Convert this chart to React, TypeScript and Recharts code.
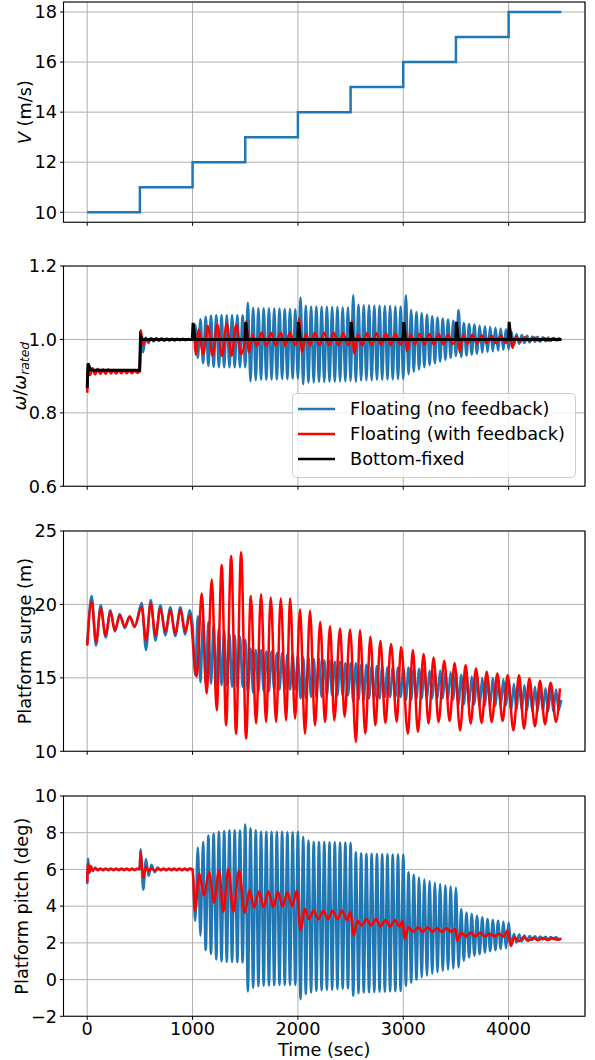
import React from 'react';
import { LineChart, Line, XAxis, YAxis, CartesianGrid, ReferenceArea, Legend } from 'recharts';

// ---------------- data ----------------
const X_TICKS = [0, 1000, 2000, 3000, 4000];

// Panel 1: wind speed
const V_T = [0, 500, 1000, 1500, 2000, 2500, 3000, 3500, 4000, 4500];
const V_VAL = [10, 11, 12, 13, 14, 15, 16, 17, 18, 18];

// shared 25 s sample grid after t = 1000 s
const GRID_LATE = [
  1000, 1025, 1050, 1075, 1100, 1125, 1150, 1175, 1200, 1225, 1250, 1275, 1300, 1325, 1350, 1375, 1400, 1425, 1450, 1475,
  1500, 1525, 1550, 1575, 1600, 1625, 1650, 1675, 1700, 1725, 1750, 1775, 1800, 1825, 1850, 1875, 1900, 1925, 1950, 1975,
  2000, 2025, 2050, 2075, 2100, 2125, 2150, 2175, 2200, 2225, 2250, 2275, 2300, 2325, 2350, 2375, 2400, 2425, 2450, 2475,
  2500, 2525, 2550, 2575, 2600, 2625, 2650, 2675, 2700, 2725, 2750, 2775, 2800, 2825, 2850, 2875, 2900, 2925, 2950, 2975,
  3000, 3025, 3050, 3075, 3100, 3125, 3150, 3175, 3200, 3225, 3250, 3275, 3300, 3325, 3350, 3375, 3400, 3425, 3450, 3475,
  3500, 3525, 3550, 3575, 3600, 3625, 3650, 3675, 3700, 3725, 3750, 3775, 3800, 3825, 3850, 3875, 3900, 3925, 3950, 3975,
  4000, 4025, 4050, 4075, 4100, 4125, 4150, 4175, 4200, 4225, 4250, 4275, 4300, 4325, 4350, 4375, 4400, 4425, 4450, 4475,
  4500,
];

// Panel 2: rotor speed ratio
const OMEGA_EARLY_T = [
  0, 10, 25, 50, 75, 100, 125, 150, 175, 200, 225, 250, 275, 300, 325, 350, 375, 400, 425, 450, 475,
  498, 508, 530, 555, 580, 605, 630, 655, 680, 705, 730, 755, 780, 805, 830, 855, 880, 905, 930, 955, 980,
];
const OMEGA_BLUE_EARLY = [
  0.865, 0.930, 0.905, 0.922, 0.906, 0.920, 0.908, 0.918, 0.909, 0.918, 0.910, 0.917, 0.910, 0.917, 0.911, 0.917, 0.911, 0.916, 0.911, 0.916, 0.912,
  0.914, 1.005, 0.965, 1.005, 0.990, 1.004, 0.995, 1.003, 0.996, 1.002, 0.997, 1.002, 0.998, 1.001, 0.998, 1.001, 0.999, 1.001, 0.999, 1.000, 1.000,
];
const OMEGA_BLUE_LATE = [
  1.000, 1.040, 0.950, 1.055, 0.935, 1.062, 0.928, 1.065, 0.925, 1.066, 0.924, 1.066, 0.924, 1.066, 0.924, 1.066, 0.924, 1.066, 0.924, 1.066,
  0.924, 1.100, 0.886, 1.086, 0.889, 1.085, 0.890, 1.085, 0.890, 1.085, 0.891, 1.084, 0.891, 1.084, 0.892, 1.083, 0.892, 1.083, 0.893, 1.082,
  0.893, 1.114, 0.878, 1.092, 0.882, 1.090, 0.883, 1.090, 0.884, 1.089, 0.884, 1.089, 0.885, 1.088, 0.885, 1.088, 0.886, 1.087, 0.886, 1.087,
  0.887, 1.120, 0.885, 1.095, 0.888, 1.093, 0.889, 1.093, 0.889, 1.092, 0.890, 1.092, 0.890, 1.091, 0.891, 1.091, 0.891, 1.090, 0.892, 1.090,
  0.892, 1.120, 0.905, 1.080, 0.912, 1.075, 0.918, 1.071, 0.924, 1.067, 0.930, 1.063, 0.935, 1.060, 0.940, 1.057, 0.945, 1.054, 0.950, 1.051,
  0.955, 1.080, 0.952, 1.045, 0.956, 1.042, 0.959, 1.040, 0.961, 1.038, 0.964, 1.036, 0.966, 1.034, 0.968, 1.032, 0.970, 1.030, 0.972, 1.028,
  0.973, 1.022, 0.985, 1.014, 0.988, 1.012, 0.990, 1.010, 0.992, 1.008, 0.993, 1.007, 0.994, 1.006, 0.995, 1.005, 0.996, 1.004, 0.997, 1.003,
  0.998,
];
const OMEGA_RED_EARLY = [
  0.855, 0.925, 0.903, 0.920, 0.905, 0.919, 0.906, 0.918, 0.906, 0.918, 0.907, 0.917, 0.907, 0.917, 0.908, 0.917, 0.908, 0.916, 0.908, 0.916, 0.909,
  0.913, 1.025, 0.985, 1.003, 0.994, 1.003, 0.995, 1.003, 0.996, 1.003, 0.996, 1.002, 0.997, 1.002, 0.997, 1.002, 0.998, 1.002, 0.998, 1.001, 1.000,
];
const OMEGA_RED_LATE_T = [
  1000, 1010, 1030, 1057, 1100, 1145, 1190, 1235, 1280, 1325, 1370, 1415, 1460, 1500, 1510, 1535, 1570, 1610, 1655, 1700,
  1745, 1790, 1835, 1880, 1925, 1970, 2000, 2010, 2040, 2075, 2115, 2160, 2205, 2250, 2295, 2340, 2385, 2430, 2475, 2500,
  2510, 2535, 2570, 2610, 2655, 2700, 2745, 2790, 2835, 2880, 2925, 2970, 3000, 3010, 3035, 3070, 3110, 3155, 3200, 3245,
  3290, 3335, 3380, 3425, 3470, 3500, 3510, 3535, 3570, 3610, 3655, 3700, 3745, 3790, 3835, 3880, 3925, 3970, 4000, 4010,
  4035, 4070, 4110, 4155, 4200, 4245, 4290, 4335, 4380, 4425, 4470, 4500,
];
const OMEGA_RED_LATE = [
  1.000, 1.035, 0.958, 1.027, 0.960, 1.036, 0.956, 1.040, 0.955, 1.043, 0.956, 1.040, 0.960, 1.000, 1.050, 0.965, 1.012, 0.983, 1.018, 0.983,
  1.018, 0.983, 1.018, 0.983, 1.018, 0.985, 1.000, 1.058, 0.966, 1.015, 0.983, 1.018, 0.984, 1.018, 0.984, 1.018, 0.984, 1.017, 0.985, 1.000,
  1.050, 0.962, 1.015, 0.984, 1.017, 0.984, 1.017, 0.985, 1.016, 0.985, 1.016, 0.986, 1.000, 1.042, 0.968, 1.014, 0.986, 1.015, 0.986, 1.015,
  0.987, 1.014, 0.987, 1.013, 0.988, 1.000, 1.040, 0.965, 1.012, 0.988, 1.012, 0.989, 1.011, 0.990, 1.010, 0.990, 1.010, 0.991, 1.000, 1.030,
  0.977, 1.008, 0.993, 1.006, 0.995, 1.005, 0.996, 1.004, 0.997, 1.003, 0.998, 1.000,
];
const OMEGA_BLACK_T = [
  0, 8, 30, 60, 498, 506, 525, 998, 1005, 1022, 1498, 1505, 1522, 1998, 2005, 2022,
  2498, 2505, 2522, 2998, 3005, 3022, 3498, 3505, 3522, 3998, 4005, 4022, 4500,
];
const OMEGA_BLACK = [
  0.868, 0.935, 0.918, 0.916, 0.916, 1.010, 1.000, 1.000, 1.045, 1.000, 1.000, 1.047, 1.000, 1.000, 1.047, 1.000,
  1.000, 1.047, 1.000, 1.000, 1.047, 1.000, 1.000, 1.048, 1.000, 1.000, 1.048, 1.000, 1.000,
];

// Panel 3: platform surge
const SURGE_EARLY_T = [0, 42, 84, 128, 175, 220, 263, 309, 356, 403, 450, 517, 558, 603, 648, 694, 742, 789, 836, 884, 931, 972];
const SURGE_BLUE_EARLY = [17.3, 20.57, 17.2, 19.95, 17.75, 19.6, 18.15, 19.35, 18.4, 19.2, 18.45, 20.1, 16.9, 20.3, 17.55, 19.95, 17.9, 19.8, 17.85, 19.8, 17.95, 19.6];
const SURGE_RED_EARLY = [17.2, 20.18, 17.45, 19.73, 17.9, 19.5, 18.25, 19.27, 18.48, 19.16, 18.52, 19.8, 17.57, 20.07, 17.9, 19.73, 18.14, 19.6, 18.0, 19.63, 18.14, 19.27];
const SURGE_BLUE_LATE = [
  18.6, 15.2, 19.2, 14.7, 19.0, 14.6, 18.8, 14.6, 18.6, 14.5, 18.4, 14.5, 18.2, 14.5, 18.0, 14.4, 17.9, 14.4, 17.8, 14.4,
  17.6, 14.0, 17.0, 14.0, 16.9, 14.1, 16.9, 14.1, 16.8, 14.1, 16.8, 14.2, 16.7, 14.2, 16.7, 14.2, 16.6, 14.2, 16.6, 14.2,
  16.5, 13.6, 16.4, 13.6, 16.4, 13.7, 16.3, 13.7, 16.3, 13.7, 16.2, 13.8, 16.2, 13.8, 16.1, 13.8, 16.1, 13.8, 16.0, 13.8,
  16.0, 13.4, 16.0, 13.5, 15.9, 13.5, 15.9, 13.6, 15.8, 13.6, 15.8, 13.6, 15.8, 13.7, 15.7, 13.7, 15.7, 13.7, 15.7, 13.7,
  15.7, 13.5, 15.7, 13.5, 15.6, 13.6, 15.6, 13.6, 15.6, 13.6, 15.5, 13.6, 15.5, 13.6, 15.5, 13.6, 15.4, 13.6, 15.4, 13.5,
  15.4, 13.2, 15.2, 13.2, 15.2, 13.2, 15.1, 13.2, 15.1, 13.1, 15.0, 13.1, 15.0, 13.1, 15.0, 13.1, 14.9, 13.1, 14.9, 13.1,
  14.8, 12.8, 14.6, 12.8, 14.6, 12.8, 14.5, 12.8, 14.5, 12.7, 14.4, 12.7, 14.4, 12.7, 14.3, 12.7, 14.3, 12.7, 14.2, 12.8,
  13.5,
];
const SURGE_RED_LATE_T = [
  1039, 1087, 1134, 1182, 1229, 1277, 1318, 1366, 1413, 1461, 1508, 1553, 1603, 1650, 1698, 1742, 1793, 1837, 1888, 1926,
  1973, 2020, 2067, 2115, 2162, 2212, 2257, 2305, 2345, 2400, 2443, 2495, 2551, 2589, 2640, 2688, 2735, 2783, 2830, 2884,
  2938, 2979, 3044, 3091, 3139, 3193, 3240, 3288, 3335, 3389, 3440, 3487, 3539, 3592, 3640, 3690, 3744, 3792, 3839, 3893,
  3943, 3991, 4045, 4099, 4146, 4197, 4250, 4298, 4345, 4399, 4450, 4487,
];
const SURGE_RED_LATE = [
  15.07, 20.75, 13.93, 21.7, 12.8, 22.68, 11.77, 23.3, 11.2, 23.55, 10.87, 20.57, 11.89, 20.7, 12.0, 20.48, 12.0, 20.4, 12.12, 20.4,
  12.24, 19.66, 11.2, 19.57, 11.77, 18.8, 12.0, 18.52, 12.12, 18.36, 12.35, 18.3, 10.64, 18.25, 11.2, 17.8, 11.77, 17.52, 11.93, 17.3,
  12.0, 17.11, 11.2, 16.89, 11.32, 16.62, 11.89, 16.39, 12.0, 16.16, 12.06, 16.02, 11.43, 15.87, 11.89, 15.64, 11.93, 15.41, 12.0, 15.3,
  12.06, 15.18, 11.43, 15.18, 11.55, 14.96, 11.7, 14.8, 11.84, 14.66, 12.0, 14.28,
];

// Panel 4: platform pitch
const PITCH_EARLY_T = [
  0, 8, 20, 35, 50, 75, 100, 125, 150, 175, 200, 225, 250, 275, 300, 325, 350, 375, 400, 425, 450, 475,
  498, 506, 532, 558, 583, 610, 640, 670, 700, 725, 750, 775, 800, 825, 850, 875, 900, 925, 950, 975,
];
const PITCH_BLUE_EARLY = [
  5.2, 6.6, 5.8, 6.2, 5.9, 6.1, 5.95, 6.05, 5.95, 6.05, 5.95, 6.05, 5.95, 6.05, 5.95, 6.05, 5.95, 6.05, 5.95, 6.05, 5.95, 6.05,
  6.0, 7.1, 4.9, 6.55, 5.65, 6.25, 5.85, 6.1, 5.95, 6.05, 5.95, 6.05, 5.95, 6.05, 5.95, 6.05, 5.95, 6.05, 5.95, 6.05,
];
const PITCH_RED_EARLY = [
  5.3, 6.3, 5.85, 6.15, 5.95, 6.05, 5.97, 6.03, 5.97, 6.03, 5.97, 6.03, 5.97, 6.03, 5.97, 6.03, 5.97, 6.03, 5.97, 6.03, 5.97, 6.03,
  6.0, 6.95, 5.55, 6.15, 5.9, 6.05, 5.95, 6.03, 5.97, 6.03, 5.97, 6.03, 5.97, 6.03, 5.97, 6.03, 5.97, 6.03, 5.97, 6.03,
];
const PITCH_BLUE_LATE = [
  6.00, 3.20, 7.20, 2.40, 7.50, 1.60, 7.85, 1.40, 7.95, 1.10, 8.05, 1.00, 8.10, 0.97, 8.13, 0.97, 8.13, 0.95, 8.12, 0.93,
  8.45, -0.65, 8.25, -0.45, 8.13, -0.36, 8.05, -0.33, 8.05, -0.32, 8.05, -0.31, 8.05, -0.30, 8.05, -0.30, 8.03, -0.30, 8.03, -0.30,
  8.05, -1.07, 7.76, -0.80, 7.58, -0.70, 7.50, -0.62, 7.49, -0.58, 7.49, -0.56, 7.48, -0.55, 7.48, -0.52, 7.47, -0.50, 7.47, -0.48,
  7.45, -0.89, 6.94, -0.74, 6.88, -0.70, 6.85, -0.68, 6.85, -0.67, 6.84, -0.66, 6.83, -0.65, 6.83, -0.64, 6.82, -0.63, 6.82, -0.62,
  6.80, -0.34, 5.85, -0.16, 5.70, 0.00, 5.55, 0.12, 5.45, 0.22, 5.35, 0.32, 5.27, 0.40, 5.20, 0.47, 5.14, 0.54, 5.08, 0.60,
  5.00, 0.66, 3.85, 1.02, 3.66, 1.20, 3.57, 1.30, 3.48, 1.39, 3.39, 1.48, 3.30, 1.55, 3.25, 1.60, 3.21, 1.66, 3.16, 1.70,
  3.11, 1.84, 2.48, 2.02, 2.45, 2.08, 2.40, 2.12, 2.38, 2.15, 2.36, 2.17, 2.34, 2.18, 2.33, 2.19, 2.32, 2.20, 2.31, 2.20,
  2.25,
];
const PITCH_RED_LATE_T = [
  1000, 1023, 1064, 1109, 1156, 1204, 1251, 1292, 1340, 1387, 1441, 1495, 1540, 1585, 1630, 1675, 1720, 1765, 1810, 1855,
  1900, 1945, 1990, 2025, 2065, 2105, 2150, 2195, 2240, 2285, 2330, 2375, 2420, 2465, 2500, 2528, 2565, 2605, 2650, 2695,
  2740, 2785, 2830, 2875, 2920, 2965, 2995, 3012, 3050, 3095, 3140, 3185, 3230, 3275, 3320, 3365, 3410, 3455, 3495, 3512,
  3550, 3595, 3640, 3685, 3730, 3775, 3820, 3865, 3910, 3950, 3990, 4020, 4055, 4100, 4145, 4190, 4235, 4280, 4325, 4370,
  4415, 4460, 4500,
];
const PITCH_RED_LATE = [
  6.0, 3.75, 5.76, 4.57, 5.85, 4.2, 5.94, 3.7, 6.03, 3.7, 5.94, 3.62, 4.85, 3.93, 4.8, 3.95, 4.8, 3.95, 4.78, 3.98,
  4.75, 4.0, 4.85, 2.66, 3.85, 3.3, 3.75, 3.3, 3.75, 3.3, 3.75, 3.3, 3.75, 3.25, 3.7, 2.39, 3.21, 2.95, 3.3, 2.95,
  3.3, 2.9, 3.25, 2.9, 3.25, 2.9, 3.2, 2.2, 2.85, 2.6, 2.85, 2.6, 2.85, 2.6, 2.8, 2.6, 2.8, 2.6, 2.75, 2.11,
  2.55, 2.35, 2.55, 2.35, 2.55, 2.35, 2.5, 2.35, 2.5, 2.35, 2.66, 1.84, 2.3, 2.1, 2.3, 2.12, 2.28, 2.14, 2.27, 2.15,
  2.26, 2.17, 2.22,
];

const SERIES_NAMES = ['Floating (no feedback)', 'Floating (with feedback)', 'Bottom-fixed'];

// ---------------- styling ----------------
const FONT = "'DejaVu Sans', sans-serif";
const FS = 17.7;
const BLUE = '#1f77b4';
const RED = '#ff0000';
const BLACK = '#000000';
const LW = 2.5;
const PLOT_H = 220.3;
const TOP_PAD = 10;
const Y_AXIS_W = 63.5;
const RIGHT_M = 10;
const CHART_W = 595;
const X_MIN = -225;
const X_MAX = 4725;

const zip = (ts: number[], vs: number[]) => ts.map((t, i) => ({ t, v: vs[i] }));

const vData = zip(V_T, V_VAL);
const omegaBlue = zip([...OMEGA_EARLY_T, ...GRID_LATE], [...OMEGA_BLUE_EARLY, ...OMEGA_BLUE_LATE]);
const omegaRed = zip([...OMEGA_EARLY_T, ...OMEGA_RED_LATE_T], [...OMEGA_RED_EARLY, ...OMEGA_RED_LATE]);
const omegaBlack = zip(OMEGA_BLACK_T, OMEGA_BLACK);
const surgeBlue = zip([...SURGE_EARLY_T, ...GRID_LATE], [...SURGE_BLUE_EARLY, ...SURGE_BLUE_LATE]);
const surgeRed = zip([...SURGE_EARLY_T, ...SURGE_RED_LATE_T], [...SURGE_RED_EARLY, ...SURGE_RED_LATE]);
const pitchBlue = zip([...PITCH_EARLY_T, ...GRID_LATE], [...PITCH_BLUE_EARLY, ...PITCH_BLUE_LATE]);
const pitchRed = zip([...PITCH_EARLY_T, ...PITCH_RED_LATE_T], [...PITCH_RED_EARLY, ...PITCH_RED_LATE]);

const tickStyle = { fontSize: FS, fill: '#000', fontFamily: FONT };
const emptyTick = () => <g />;

const YLab = ({ kind, bx }: any) => {
  const cy = TOP_PAD + PLOT_H / 2;
  const common = {
    transform: `translate(${bx},${cy}) rotate(-90)`,
    textAnchor: 'middle' as const,
    fontSize: FS,
    fontFamily: FONT,
    fill: '#000',
  };
  if (kind === 'v') {
    return (
      <text {...common}>
        <tspan fontStyle="italic">V</tspan>
        <tspan> (m/s)</tspan>
      </text>
    );
  }
  if (kind === 'omega') {
    return (
      <text {...common}>
        <tspan fontStyle="italic">ω</tspan>
        <tspan>/</tspan>
        <tspan fontStyle="italic">ω</tspan>
        <tspan fontStyle="italic" fontSize={12.4} dy={3.5}>rated</tspan>
      </text>
    );
  }
  if (kind === 'surge') return <text {...common}>Platform surge (m)</text>;
  return <text {...common}>Platform pitch (deg)</text>;
};

const XLab = () => (
  <text
    x={Y_AXIS_W + (CHART_W - Y_AXIS_W - RIGHT_M) / 2}
    y={269.6}
    textAnchor="middle"
    fontSize={FS}
    fontFamily={FONT}
    fill="#000"
  >
    Time (sec)
  </text>
);

const LegendBox = () => {
  const colors = [BLUE, RED, BLACK];
  return (
    <svg width={285} height={86} style={{ display: 'block', overflow: 'visible' }}>
      <rect x={0.5} y={0.5} width={283} height={84} rx={4} ry={4} fill="rgba(255,255,255,0.8)" stroke="#cccccc" strokeWidth={1} />
      {SERIES_NAMES.map((name, i) => (
        <g key={name}>
          <line x1={6} x2={43} y1={16 + 25 * i} y2={16 + 25 * i} stroke={colors[i]} strokeWidth={LW} />
          <text x={58} y={16 + 25 * i + 6.4} fontSize={FS} fontFamily={FONT} fill="#000">
            {name}
          </text>
        </g>
      ))}
    </svg>
  );
};

const PLOT_TOPS = [1.8, 265.8, 530.8, 795.6];

function renderChart(
  idx: number,
  yDomain: [number, number],
  yTicks: number[],
  yFmt: (v: number) => string,
  labelKind: string,
  labelX: number,
  lines: React.ReactNode[],
  extra?: React.ReactNode,
) {
  const last = idx === 3;
  const xAxisH = last ? 52 : 12;
  const height = TOP_PAD + PLOT_H + xAxisH;
  return (
    <div key={idx} style={{ position: 'absolute', left: 0, top: PLOT_TOPS[idx] - TOP_PAD, width: CHART_W, height }}>
      <LineChart width={CHART_W} height={height} margin={{ top: TOP_PAD, right: RIGHT_M, left: 0, bottom: 0 }}>
        <CartesianGrid stroke="#b0b0b0" strokeWidth={1} />
        <XAxis
          dataKey="t"
          type="number"
          domain={[X_MIN, X_MAX]}
          ticks={X_TICKS}
          interval={0}
          allowDataOverflow
          axisLine={false}
          tickLine={{ stroke: '#000', strokeWidth: 1 }}
          tickSize={3.5}
          tickMargin={3}
          height={xAxisH}
          tick={last ? tickStyle : emptyTick}
          label={last ? <XLab /> : undefined}
        />
        <YAxis
          type="number"
          domain={yDomain}
          ticks={yTicks}
          interval={0}
          allowDataOverflow
          axisLine={false}
          tickLine={{ stroke: '#000', strokeWidth: 1 }}
          tickSize={3.5}
          tickMargin={3}
          width={Y_AXIS_W}
          tick={tickStyle}
          tickFormatter={yFmt}
          label={<YLab kind={labelKind} bx={labelX} />}
        />
        {lines}
        <ReferenceArea
          x1={X_MIN}
          x2={X_MAX}
          y1={yDomain[0]}
          y2={yDomain[1]}
          fill="none"
          fillOpacity={0}
          stroke="#000"
          strokeWidth={1.1}
          ifOverflow="visible"
        />
        {extra}
      </LineChart>
    </div>
  );
}

const lineProps = {
  dataKey: 'v',
  dot: false,
  activeDot: false,
  isAnimationActive: false,
  strokeWidth: LW,
};

const fmtInt = (v: number) => (v < 0 ? '\u2212' + Math.abs(v) : String(v));
const fmt1 = (v: number) => v.toFixed(1);

export default function App() {
  const p2Top = PLOT_TOPS[1] - TOP_PAD;
  return (
    <div style={{ position: 'absolute', left: 0, top: 0, width: 595, height: 1060, overflow: 'hidden', background: '#fff' }}>
      {renderChart(0, [9.6, 18.4], [10, 12, 14, 16, 18], fmtInt, 'v', 31, [
        <Line key="v" {...lineProps} data={vData} type="stepAfter" stroke={BLUE} name="V" />,
      ])}
      {renderChart(
        1,
        [0.6, 1.2],
        [0.6, 0.8, 1.0, 1.2],
        fmt1,
        'omega',
        25.5,
        [
          <Line key="b" {...lineProps} data={omegaBlue} type="monotone" stroke={BLUE} name={SERIES_NAMES[0]} />,
          <Line key="r" {...lineProps} data={omegaRed} type="monotone" stroke={RED} name={SERIES_NAMES[1]} />,
          <Line key="k" {...lineProps} data={omegaBlack} type="linear" stroke={BLACK} strokeWidth={3} name={SERIES_NAMES[2]} />,
        ],
        <Legend
          layout="vertical"
          align="center"
          verticalAlign="middle"
          content={() => <LegendBox />}
          wrapperStyle={{ position: 'absolute', left: 292, top: 393 - p2Top, width: 285, height: 86, margin: 0, padding: 0 }}
        />,
      )}
      {renderChart(2, [10, 25], [10, 15, 20, 25], fmtInt, 'surge', 31, [
        <Line key="b" {...lineProps} data={surgeBlue} type="monotone" stroke={BLUE} name={SERIES_NAMES[0]} />,
        <Line key="r" {...lineProps} data={surgeRed} type="monotone" stroke={RED} name={SERIES_NAMES[1]} />,
      ])}
      {renderChart(3, [-2, 10], [-2, 0, 2, 4, 6, 8, 10], fmtInt, 'pitch', 27.5, [
        <Line key="b" {...lineProps} data={pitchBlue} type="monotone" stroke={BLUE} name={SERIES_NAMES[0]} />,
        <Line key="r" {...lineProps} data={pitchRed} type="monotone" stroke={RED} name={SERIES_NAMES[1]} />,
      ])}
    </div>
  );
}
